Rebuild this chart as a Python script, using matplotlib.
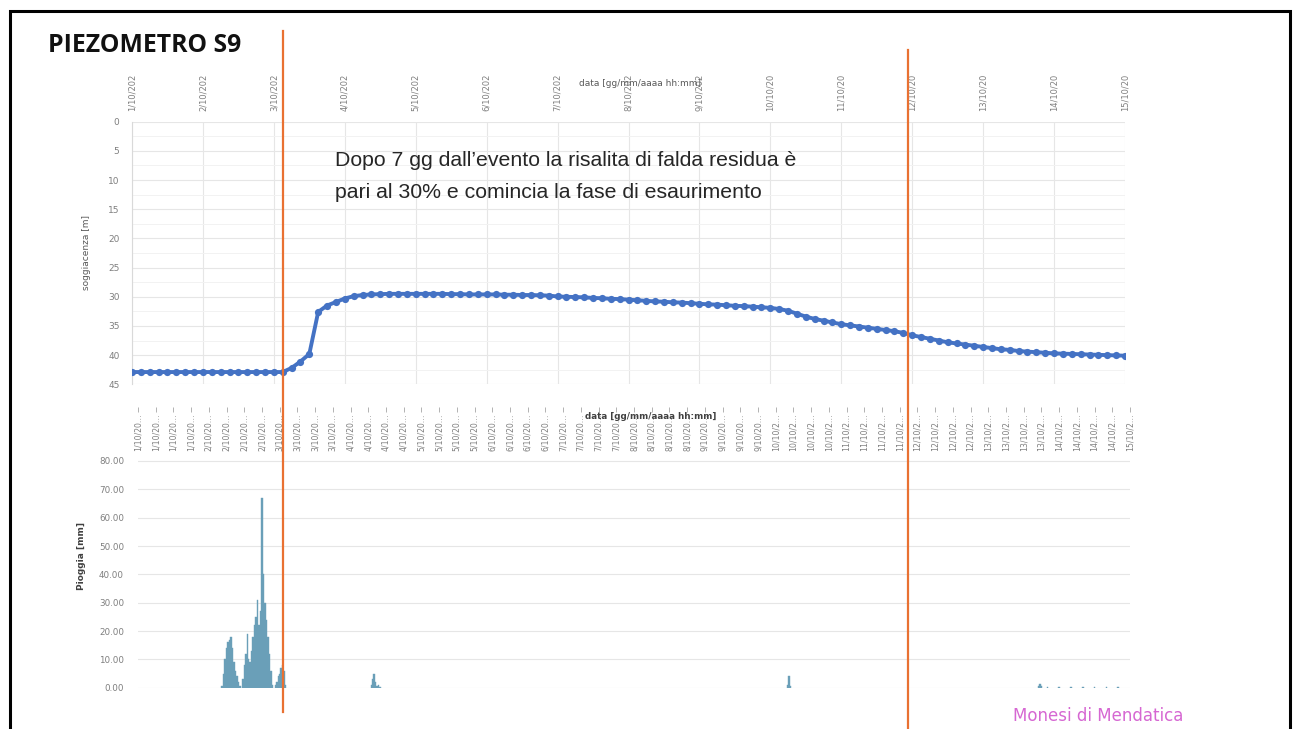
import matplotlib
matplotlib.use("Agg")
import matplotlib.pyplot as plt
import matplotlib.transforms as mtrans
from matplotlib.lines import Line2D
from matplotlib.patches import Rectangle

W, H = 1299, 729

# ---------------- data ----------------
# piezometer readings every 3 h, hours since 1/10 00:00
level_hours = list(range(0, 337, 3))
level_m = [
    42.9, 42.9, 42.9, 42.9, 42.9, 42.9, 42.9, 42.9,          # 1/10
    42.9, 42.9, 42.9, 42.9, 42.9, 42.9, 42.9, 42.9,          # 2/10
    42.9, 42.9, 42.2, 41.1, 39.8, 32.6, 31.5, 30.9,          # 3/10
    30.3, 29.9, 29.7, 29.6, 29.55, 29.5, 29.5, 29.5,         # 4/10
    29.5, 29.5, 29.5, 29.5, 29.55, 29.55, 29.6, 29.6,        # 5/10
    29.6, 29.6, 29.65, 29.65, 29.7, 29.7, 29.75, 29.8,       # 6/10
    29.95, 30.0, 30.05, 30.1, 30.2, 30.25, 30.35, 30.4,      # 7/10
    30.5, 30.6, 30.7, 30.8, 30.85, 30.95, 31.0, 31.1,        # 8/10
    31.2, 31.3, 31.35, 31.45, 31.55, 31.6, 31.7, 31.8,       # 9/10
    31.9, 32.1, 32.4, 32.9, 33.4, 33.8, 34.1, 34.4,          # 10/10
    34.7, 34.9, 35.1, 35.3, 35.5, 35.7, 35.9, 36.2,          # 11/10
    36.6, 36.9, 37.2, 37.5, 37.8, 38.0, 38.2, 38.4,          # 12/10
    38.6, 38.8, 39.0, 39.1, 39.3, 39.4, 39.5, 39.6,          # 13/10
    39.7, 39.75, 39.8, 39.85, 39.9, 39.95, 40.0, 40.05,      # 14/10
    40.1,                                                    # 15/10
]

# rainfall (30-min totals), hours since 1/10 00:00
rain_hours = [
    28.5, 29.0, 29.5, 30.0, 30.5, 31.0, 31.5, 32.0, 32.5, 33.0, 33.5, 34.0, 34.5,
    35.5, 36.0, 36.5, 37.0, 37.5, 38.0, 38.5, 39.0, 39.5, 40.0, 40.5, 41.0, 41.5,
    42.0, 42.5, 43.0, 43.5, 44.0, 44.5, 45.0, 45.5,
    46.5, 47.0, 47.5, 48.0, 48.5, 49.0, 49.5, 50.0,
    79.0, 79.5, 80.0, 80.5, 81.0, 81.5, 82.0,
    220.0, 220.5, 221.0,
    305.0, 305.5, 306.0, 308.0, 312.0, 316.0, 320.0, 324.0, 328.0, 332.0,
]
rain_mm = [
    0.5, 5, 10, 14, 16, 17, 18, 14, 9, 6, 4, 2, 0.5,
    3, 8, 12, 19, 10, 9, 13, 18, 22, 25, 31, 22, 27,
    67, 40, 30, 24, 18, 12, 6, 1,
    1, 2, 4, 5, 7, 8, 6, 1,
    1, 3, 5, 2, 0.5, 1, 0.3,
    1, 4, 0.5,
    0.6, 1.2, 0.5, 0.4, 0.3, 0.3, 0.3, 0.3, 0.3, 0.3,
]

day_labels_top = ["1/10/202", "2/10/202", "3/10/202", "4/10/202", "5/10/202",
                  "6/10/202", "7/10/202", "8/10/202", "9/10/202", "10/10/20",
                  "11/10/20", "12/10/20", "13/10/20", "14/10/20", "15/10/20"]
event_hours = [51.2, 262.5]

level_ticks = [0, 5, 10, 15, 20, 25, 30, 35, 40, 45]
rain_ticks = [0, 10, 20, 30, 40, 50, 60, 70, 80]

# ---------------- figure ----------------
plt.rcParams['font.family'] = ['DejaVu Sans']
fig = plt.figure(figsize=(W / 100, H / 100), dpi=100)
fig.patch.set_facecolor('white')

grey = '#7F7F7F'
grid_c = '#E6E6E6'
blue = '#4472C4'
bar_c = '#6A9FB8'
orange = '#E97132'

# ---- upper chart ----
ax1 = fig.add_axes([132 / W, 1 - 384.3 / H, 993 / W, 262.6 / H])
ax1.plot(level_hours, level_m, color=blue, lw=2.8, marker='o', ms=5.2,
         markeredgewidth=0, zorder=3, solid_capstyle='round')
ax1.set_xlim(0, 336)
ax1.set_ylim(45, 0)
ax1.set_yticks(level_ticks)
ax1.set_yticks([2.5 + 5 * i for i in range(9)], minor=True)
ax1.set_xticks(list(range(0, 337, 24)))
ax1.set_xticklabels(day_labels_top, rotation=90)
ax1.xaxis.tick_top()
ax1.tick_params(axis='x', length=0, pad=8, labelsize=6, labelcolor=grey)
ax1.tick_params(axis='y', length=0, pad=9, labelsize=6.5, labelcolor=grey)
ax1.tick_params(axis='y', which='minor', length=0)
ax1.grid(True, which='major', color=grid_c, lw=0.8)
ax1.grid(True, which='minor', axis='y', color='#F2F2F2', lw=0.7)
for s in ['top', 'right', 'bottom']:
    ax1.spines[s].set_visible(False)
ax1.spines['left'].set_color('#D9D9D9')
ax1.set_ylabel('soggiacenza [m]', fontsize=6.5, color='#595959', labelpad=12)
ax1.text(0.512, 1.145, 'data [gg/mm/aaaa hh:mm]', transform=ax1.transAxes,
         ha='center', va='center', fontsize=6.5, color='#595959')

fig.text(335 / W, 1 - 160 / H,
         "Dopo 7 gg dall\u2019evento la risalita di falda residua \u00e8",
         ha='left', va='center', fontsize=15.3,
         family=['Liberation Sans', 'DejaVu Sans'], color='#262626')
fig.text(335 / W, 1 - 193 / H,
         "pari al 30% e comincia la fase di esaurimento",
         ha='left', va='center', fontsize=15.3,
         family=['Liberation Sans', 'DejaVu Sans'], color='#262626')

# ---- lower chart ----
top_px = 407
ax2 = fig.add_axes([138 / W, 1 - 687.7 / H, 992 / W, (687.7 - top_px) / H])
ax2.bar(rain_hours, rain_mm, width=0.5, color=bar_c, edgecolor=bar_c,
        linewidth=0.3, zorder=3)
ax2.set_xlim(0, 336)
ax2.set_ylim(0, 80 * (687.7 - top_px) / (687.7 - 461))
ax2.set_yticks(rain_ticks)
ax2.set_yticklabels([f"{v:.2f}" for v in rain_ticks])
six_h = list(range(0, 337, 6))
ax2.set_xticks(six_h)
low_labels = []
for h in six_h:
    d = h // 24 + 1
    low_labels.append(f"{d}/10/20\u2026" if d < 10 else f"{d}/10/2\u2026")
ax2.set_xticklabels(low_labels, rotation=90)
ax2.xaxis.tick_top()
ax2.tick_params(axis='x', direction='in', length=3.5, width=0.6, color='#A6A6A6',
                pad=-4.5, labelsize=5.6, labelcolor=grey)
for t in ax2.xaxis.get_major_ticks():
    t.label2.set_verticalalignment('top')
ax2.tick_params(axis='y', length=0, pad=10, labelsize=6.3, labelcolor=grey)
ax2.yaxis.grid(True, color=grid_c, lw=0.8)
for s in ax2.spines.values():
    s.set_visible(False)
ax2.set_ylabel('Pioggia [mm]', fontsize=6.5, fontweight='bold', color='#404040',
               labelpad=8)
ax2.yaxis.set_label_coords(-0.052, 0.47)
fig.text(651 / W, 1 - 417 / H, 'data [gg/mm/aaaa hh:mm]', ha='center',
         va='center', fontsize=6.3, fontweight='bold', color='#404040')

# ---- event lines across the slide ----
btr = mtrans.blended_transform_factory(ax1.transData, fig.transFigure)
fig.add_artist(Line2D([event_hours[0]] * 2, [1 - 712 / H, 1 - 31 / H],
                      transform=btr, color=orange, lw=1.6, zorder=10))
fig.add_artist(Line2D([event_hours[1]] * 2, [0, 1 - 50 / H],
                      transform=btr, color=orange, lw=1.6, zorder=10))

# ---- slide decorations ----
fig.add_artist(Rectangle((9.5 / W, -0.05), (1290 - 9.5) / W, 1.05 - 10.5 / H,
                         transform=fig.transFigure, fill=False,
                         edgecolor='black', lw=2.2))
fig.text(48 / W, 1 - 45 / H, 'PIEZOMETRO S9', ha='left', va='center',
         fontsize=17.8, fontweight='bold', family=['Open Sans', 'DejaVu Sans'],
         color='#111111')
fig.text(1013 / W, 1 - 716 / H, 'Monesi di Mendatica', ha='left', va='center',
         fontsize=12, color='#D667D2', family=['DejaVu Sans'])

fig.savefig('out.png', dpi=100, facecolor='white')
